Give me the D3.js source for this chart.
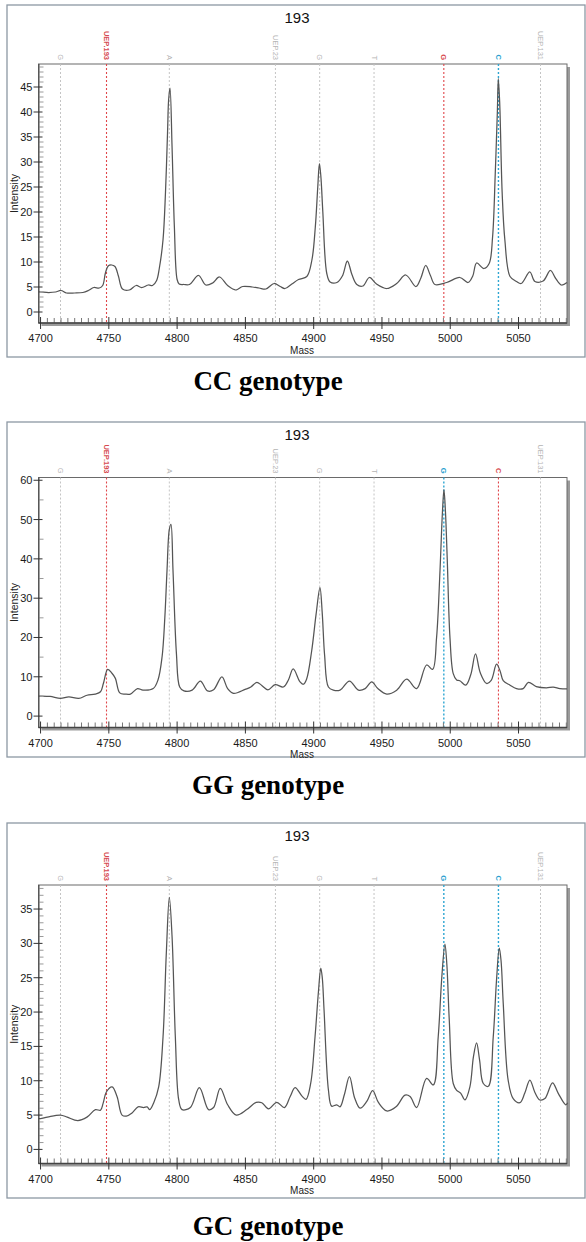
<!DOCTYPE html>
<html>
<head>
<meta charset="utf-8">
<script src="https://cdn.jsdelivr.net/npm/d3@7/dist/d3.min.js"></script>
<style>
  html, body { margin: 0; padding: 0; background: #ffffff; }
  svg { display: block; }
</style>
</head>
<body>
<svg id="chart" width="586" height="1242"></svg>
<script>
// ---------------- DATA ----------------
const panelTitle = "193";
const genotypes = ["CC genotype", "GG genotype", "GC genotype"];
const massTicks = [4700, 4750, 4800, 4850, 4900, 4950, 5000, 5050];
const ccIntensityTicks = [0, 5, 10, 15, 20, 25, 30, 35, 40, 45];
const ggIntensityTicks = [0, 10, 20, 30, 40, 50, 60];
const gcIntensityTicks = [0, 5, 10, 15, 20, 25, 30, 35];

const markerMasses = [4714.6, 4748.3, 4794.3, 4872.0, 4904.4, 4944.2, 4995.3, 5035.3, 5066.1];
const markerLabels = ["G", "UEP.193", "A", "UEP.23", "G", "T", "G", "C", "UEP.131"];
const ccMarkerKinds = ["gray", "red", "gray", "gray", "gray", "gray", "red", "blue", "gray"];
const ggMarkerKinds = ["gray", "red", "gray", "gray", "gray", "gray", "blue", "red", "gray"];
const gcMarkerKinds = ["gray", "red", "gray", "gray", "gray", "gray", "blue", "blue", "gray"];

// CC spectrum
const ccMass = [4698.5, 4700, 4706, 4711, 4715, 4719, 4725, 4731, 4735, 4739, 4743, 4745.5, 4747.5, 4749.5, 4752, 4754.5, 4757, 4760, 4765, 4770, 4774, 4779, 4782,
  4785, 4787, 4789.7, 4791.5, 4793, 4793.8, 4794.8, 4796.3, 4798, 4800, 4801.5, 4805, 4809, 4815.7, 4821, 4826, 4831, 4837, 4843, 4848, 4855, 4860, 4865, 4871, 4875.5, 4879, 4884, 4888.9, 4895,
  4898.7, 4901.2, 4903, 4904.2, 4905.3, 4906.7, 4909.6, 4912, 4917, 4921, 4924.7, 4928, 4931.6, 4936, 4940.8, 4946, 4953.5, 4960.8, 4967.4, 4974.9, 4978.5, 4982, 4985.5, 4988.8, 4997.4, 5007, 5013.1, 5016.5, 5019.3, 5024.6, 5028.5,
  5031, 5033, 5034.5, 5035.2, 5036.2, 5038, 5040, 5043.8, 5048.5, 5052, 5058.3, 5062, 5068, 5073.4, 5077, 5081.4, 5085.5];
const ccIntensity = [4.0, 4.0, 3.9, 4.0, 4.3, 3.8, 3.8, 3.9, 4.3, 4.9, 4.8, 5.3, 7.8, 9.2, 9.4, 9.1, 7.2, 4.6, 4.4, 5.3, 4.9, 5.4, 5.3,
  6.3, 8.8, 14.5, 24, 36, 42.5, 44.8, 33, 17, 6.5, 5.6, 5.5, 5.5, 7.3, 5.4, 5.8, 7.0, 5.3, 4.4, 5.1, 5.0, 4.8, 4.6, 5.7, 5.1, 4.7, 5.6, 6.5, 7.1,
  10.4, 17, 25, 29.7, 27, 20, 7.7, 6.0, 5.9, 7.2, 10.2, 7.5, 5.5, 5.2, 6.9, 5.6, 4.7, 5.7, 7.4, 5.1, 6.8, 9.3, 7.3, 5.5, 5.9, 6.9, 5.9, 7.2, 9.8, 8.7, 9.7,
  15, 28, 40, 46.7, 42, 24, 14.4, 7.1, 6.1, 5.7, 8.0, 6.1, 6.2, 8.3, 6.8, 5.4, 5.9];

// GG spectrum
const ggMass = [4698.5, 4700, 4707, 4714.6, 4720.7, 4728, 4734, 4740, 4743.9, 4746, 4749.2, 4752.3, 4754.8, 4758, 4762, 4765.8, 4771, 4775, 4782.5,
  4786, 4789, 4791, 4792.6, 4794.3, 4795.5, 4797, 4799.5, 4801.9, 4805, 4811, 4817, 4822.3, 4826.7, 4832.8, 4837, 4841.3, 4849.8, 4854, 4858.4, 4862, 4866.5, 4871.8, 4877.8,
  4881.5, 4885, 4890, 4892.4, 4894.8, 4898.5, 4901.8, 4904.6, 4906.3, 4908, 4910.8, 4914.4, 4919.3, 4926.2, 4932.8, 4937.7, 4942.5, 4947, 4953.5, 4960.8, 4968.1, 4975.4, 4982.7, 4987.1,
  4990, 4992.5, 4994.3, 4995.4, 4996.5, 4997.8, 4999.8, 5002.2, 5004.7, 5007, 5011.4, 5015, 5018.5, 5022, 5026.6, 5030, 5033.9, 5036.5, 5038.8, 5043.6, 5048.5, 5053.4, 5057.3, 5063, 5070.5, 5075.4, 5080.3, 5085.5];
const ggIntensity = [5.1, 5.1, 5.0, 4.5, 4.9, 4.5, 5.3, 5.6, 6.2, 8.3, 11.9, 10.9, 9.6, 5.9, 5.6, 5.6, 7.0, 6.6, 7.0,
  9.2, 15.1, 25, 37, 47.5, 48.8, 37, 15.9, 7.4, 6.4, 6.6, 8.9, 6.4, 6.7, 10.0, 7.0, 5.8, 6.8, 7.4, 8.6, 7.8, 6.7, 8.0, 7.4,
  9.2, 12.0, 8.7, 8.1, 9.4, 16.5, 26, 32.7, 26, 15.5, 7.4, 6.6, 6.6, 8.9, 6.6, 7.0, 8.7, 7.0, 5.6, 6.6, 9.4, 7.0, 13.0, 11.9,
  20, 37, 52, 57.6, 52, 40, 20, 10.8, 9.2, 9.0, 7.9, 10.5, 15.8, 11.0, 8.3, 9.1, 13.2, 11.5, 9.0, 7.9, 7.0, 7.0, 8.6, 7.5, 7.2, 7.4, 7.0, 6.9];

// GC spectrum
const gcMass = [4698.5, 4700, 4705, 4714.6, 4719.5, 4727.3, 4734, 4740.2, 4743.9, 4745.8, 4748.3, 4752.4, 4756, 4759.7, 4762.8, 4767, 4771.4, 4775.5, 4778, 4780, 4782.9,
  4786.5, 4789.7, 4792.1, 4794.3, 4796.3, 4798.7, 4801.2, 4803.6, 4809.7, 4816.3, 4823, 4826.7, 4831.6, 4837, 4843.3, 4851, 4857.9, 4862, 4866.9, 4873, 4878.6,
  4882.8, 4886.4, 4891.3, 4894.4, 4897.8, 4901, 4903.5, 4905.2, 4906.3, 4907.6, 4910.8, 4913.2, 4916.9, 4919.3, 4922.5, 4926.2, 4930, 4934, 4938.9, 4943.2, 4947.5, 4953.5, 4960.3, 4966.9, 4970.6, 4975.4,
  4982.7, 4987.6, 4991.2, 4993.8, 4996.1, 4997.5, 4999.3, 5002.2, 5004.7, 5007.6, 5010.8, 5014.4, 5017, 5019.3, 5021.5, 5024.2, 5027.9, 5031.5, 5034, 5035.9, 5037.2, 5038.8, 5042.4,
  5046.1, 5051, 5054.6, 5058.3, 5062, 5065.6, 5069.3, 5074.9, 5079, 5084.6, 5086];
const gcIntensity = [4.5, 4.5, 4.7, 5.0, 4.7, 4.2, 4.7, 5.8, 5.7, 6.7, 8.4, 9.1, 7.7, 5.0, 4.85, 5.3, 6.2, 6.1, 6.2, 5.8, 6.8,
  9.1, 16.4, 28.6, 36.7, 31, 16.4, 7.2, 5.8, 6.1, 9.0, 5.8, 6.1, 8.9, 6.5, 5.0, 5.8, 6.85, 6.8, 5.9, 6.85, 6.1,
  7.7, 9.0, 7.8, 7.3, 9.6, 16.4, 23, 26.4, 25, 20.3, 8.65, 6.3, 6.5, 6.2, 8.0, 10.6, 7.5, 6.0, 7.0, 8.55, 6.8, 5.6, 6.2, 7.9, 7.7, 6.1,
  10.35, 9.4, 16.4, 25, 29.9, 27, 18.8, 9.6, 8.6, 8.2, 7.2, 9.1, 13.5, 15.5, 13, 9.6, 9.2, 16.4, 25, 29.3, 27.5, 21.3, 10.1,
  7.4, 6.8, 8.2, 10.1, 8.3, 7.2, 7.4, 9.7, 8.2, 6.5, 6.8];

// ---------------- LAYOUT ----------------
const frameLeft = 7, frameRight = 585;
const plotLeft = 38.5, plotRight = 567;
const massDomain = [4698.5, 5085.5];
const colors = {
  gray: { line: "#c4c4c4", text: "#b4b4b4", width: 1 },
  red: { line: "#e0464a", text: "#d64a50", width: 1.1 },
  blue: { line: "#2fa6d2", text: "#2b9fd0", width: 1.4 }
};

const panels = [
  { frameTop: 5, frameBottom: 357, plotTop: 64, plotBottom: 323, yDomain: [-2.2, 49.6], ticks: ccIntensityTicks, minorStep: 1, minorMax: 49,
    mass: ccMass, inten: ccIntensity, kinds: ccMarkerKinds, genoY: 390, genotype: genotypes[0] },
  { frameTop: 422, frameBottom: 757, plotTop: 477.5, plotBottom: 727.5, yDomain: [-2.9, 60.7], ticks: ggIntensityTicks, minorStep: 5, minorMax: 60,
    mass: ggMass, inten: ggIntensity, kinds: ggMarkerKinds, genoY: 794, genotype: genotypes[1] },
  { frameTop: 823, frameBottom: 1198, plotTop: 885, plotBottom: 1163.5, yDomain: [-2.05, 38.5], ticks: gcIntensityTicks, minorStep: 1, minorMax: 38,
    mass: gcMass, inten: gcIntensity, kinds: gcMarkerKinds, genoY: 1235, genotype: genotypes[2] }
];

const svg = d3.select("#chart");
const x = d3.scaleLinear().domain(massDomain).range([plotLeft, plotRight]);

panels.forEach(p => {
  const g = svg.append("g");
  const y = d3.scaleLinear().domain(p.yDomain).range([p.plotBottom, p.plotTop]);

  g.append("rect")
    .attr("x", frameLeft).attr("y", p.frameTop)
    .attr("width", frameRight - frameLeft).attr("height", p.frameBottom - p.frameTop)
    .attr("fill", "#ffffff").attr("stroke", "#8d98a4").attr("stroke-width", 1.3);

  g.append("text")
    .attr("x", 297).attr("y", p.frameTop + 12)
    .attr("text-anchor", "middle").attr("dominant-baseline", "central")
    .attr("font-family", "Liberation Sans, Arial, sans-serif").attr("font-size", 15)
    .attr("fill", "#111").text(panelTitle);

  g.append("rect")
    .attr("x", plotLeft + 3).attr("y", p.plotTop + 3)
    .attr("width", plotRight - plotLeft).attr("height", p.plotBottom - p.plotTop)
    .attr("fill", "#9b9b9b");
  g.append("rect")
    .attr("x", plotLeft).attr("y", p.plotTop)
    .attr("width", plotRight - plotLeft).attr("height", p.plotBottom - p.plotTop)
    .attr("fill", "#ffffff").attr("stroke", "#6a6a6a").attr("stroke-width", 1);

  markerMasses.forEach((m, i) => {
    const c = colors[p.kinds[i]];
    g.append("line")
      .attr("x1", x(m)).attr("x2", x(m))
      .attr("y1", p.plotTop).attr("y2", p.plotBottom)
      .attr("stroke", c.line).attr("stroke-width", c.width)
      .attr("stroke-dasharray", "2,2");
    g.append("text")
      .attr("transform", `translate(${x(m)},${p.plotTop - 4}) rotate(90)`)
      .attr("text-anchor", "end").attr("dominant-baseline", "central")
      .attr("font-family", "Liberation Sans, Arial, sans-serif")
      .attr("font-size", 7.5)
      .attr("font-weight", p.kinds[i] === "gray" ? "normal" : "bold")
      .attr("fill", c.text).text(markerLabels[i]);
  });

  const pts = p.mass.map((m, i) => [m, p.inten[i]]);
  const line = d3.line().x(d => x(d[0])).y(d => y(d[1])).curve(d3.curveCatmullRom.alpha(0.5));
  g.append("path").attr("d", line(pts))
    .attr("fill", "none").attr("stroke", "#555").attr("stroke-width", 1.25)
    .attr("stroke-linejoin", "round");

  const minor = d3.range(0, p.minorMax + 0.001, p.minorStep).filter(v => !p.ticks.includes(v) && y(v) > p.plotTop + 1);
  g.selectAll(null).data(minor).enter().append("line")
    .attr("x1", plotLeft + 1).attr("x2", plotLeft + 5)
    .attr("y1", d => y(d)).attr("y2", d => y(d))
    .attr("stroke", "#9a9a9a").attr("stroke-width", 1);
  g.append("line").attr("x1", plotLeft + 0.5).attr("x2", plotLeft + 0.5)
    .attr("y1", p.plotTop).attr("y2", p.plotBottom).attr("stroke", "#444");
  g.selectAll(null).data(p.ticks).enter().append("line")
    .attr("x1", plotLeft - 5).attr("x2", plotLeft + 4)
    .attr("y1", d => y(d)).attr("y2", d => y(d))
    .attr("stroke", "#333").attr("stroke-width", 1);
  g.selectAll(null).data(p.ticks).enter().append("text")
    .attr("x", plotLeft - 6).attr("y", d => y(d))
    .attr("text-anchor", "end").attr("dominant-baseline", "central")
    .attr("font-family", "Liberation Sans, Arial, sans-serif").attr("font-size", 11)
    .attr("fill", "#1a1a1a").text(d => d);

  const xMinor = d3.range(4700, 5086, 5).filter(v => !massTicks.includes(v));
  g.selectAll(null).data(xMinor).enter().append("line")
    .attr("x1", d => x(d)).attr("x2", d => x(d))
    .attr("y1", p.plotBottom - 5).attr("y2", p.plotBottom)
    .attr("stroke", "#777").attr("stroke-width", 1);
  g.append("line").attr("x1", plotLeft).attr("x2", plotRight)
    .attr("y1", p.plotBottom).attr("y2", p.plotBottom).attr("stroke", "#444").attr("stroke-width", 1.5);
  g.selectAll(null).data(massTicks).enter().append("line")
    .attr("x1", d => x(d)).attr("x2", d => x(d))
    .attr("y1", p.plotBottom - 6).attr("y2", p.plotBottom + 6)
    .attr("stroke", "#333").attr("stroke-width", 1);
  g.selectAll(null).data(massTicks).enter().append("text")
    .attr("x", d => x(d)).attr("y", p.plotBottom + 15)
    .attr("text-anchor", "middle").attr("dominant-baseline", "central")
    .attr("font-family", "Liberation Sans, Arial, sans-serif").attr("font-size", 11)
    .attr("fill", "#1a1a1a").text(d => d);

  g.append("text")
    .attr("x", 302).attr("y", p.plotBottom + 27)
    .attr("text-anchor", "middle").attr("dominant-baseline", "central")
    .attr("font-family", "Liberation Sans, Arial, sans-serif").attr("font-size", 10)
    .attr("fill", "#222").text("Mass");
  g.append("text")
    .attr("transform", `translate(14,${(p.plotTop + p.plotBottom) / 2}) rotate(-90)`)
    .attr("text-anchor", "middle").attr("dominant-baseline", "central")
    .attr("font-family", "Liberation Sans, Arial, sans-serif").attr("font-size", 10.5)
    .attr("fill", "#222").text("Intensity");

  svg.append("text")
    .attr("x", 268).attr("y", p.genoY)
    .attr("text-anchor", "middle")
    .attr("font-family", "Liberation Serif, 'Times New Roman', serif")
    .attr("font-weight", "bold").attr("font-size", 27)
    .attr("fill", "#000").text(p.genotype);
});
</script>
</body>
</html>
